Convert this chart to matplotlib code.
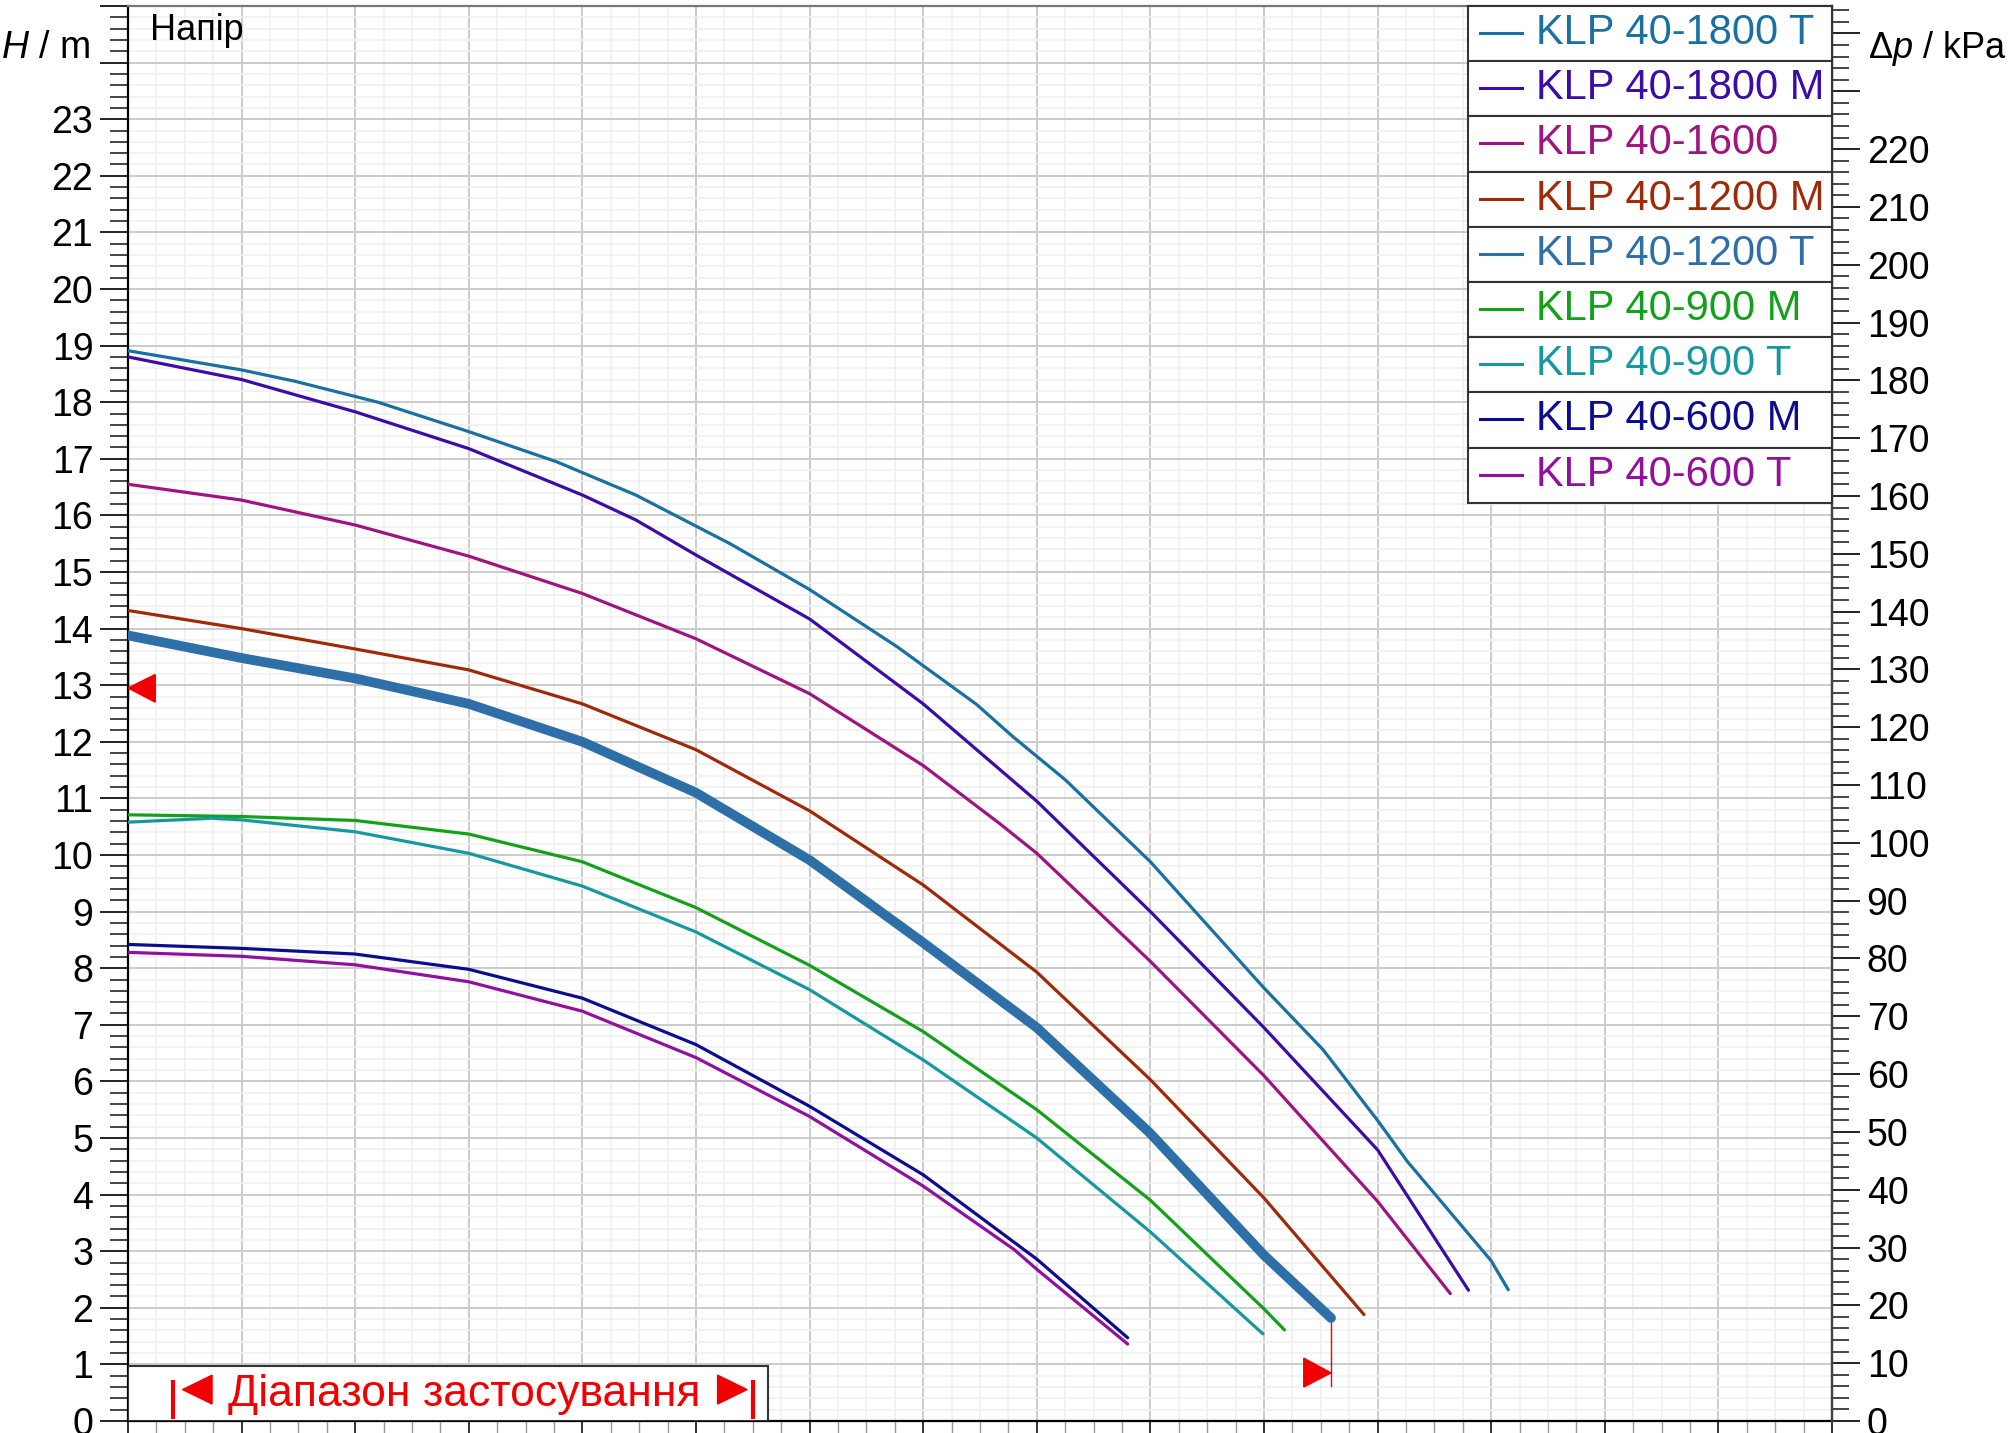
import matplotlib
matplotlib.use("Agg")
import matplotlib.pyplot as plt
from matplotlib.patches import Rectangle, Polygon
from matplotlib.lines import Line2D
from matplotlib.ticker import MultipleLocator

plt.rcParams['font.family'] = ['Liberation Sans', 'DejaVu Sans']
plt.rcParams['mathtext.fontset'] = 'custom'
plt.rcParams['mathtext.rm'] = 'Liberation Sans'
plt.rcParams['mathtext.it'] = 'Liberation Sans:italic'

# ---------------- data (flow units on x, head H in m on y) ----------------
names = ["KLP 40-1800 T", "KLP 40-1800 M", "KLP 40-1600", "KLP 40-1200 M",
         "KLP 40-1200 T", "KLP 40-900 M", "KLP 40-900 T", "KLP 40-600 M",
         "KLP 40-600 T"]
colors = ["#1a70a0", "#3c0ca8", "#a0147f", "#a02a08", "#2f6fa8",
          "#13a01a", "#1598a0", "#0c0c90", "#92109e"]

q_1800T = [0, 1.0, 1.47, 2.2, 3.0, 3.77, 4.47, 5.3, 6.0, 6.77, 7.47, 7.79, 8.25, 9.0, 10.0, 10.52, 11.0, 11.26, 12.0, 12.15]
h_1800T = [18.91, 18.57, 18.37, 18.0, 17.48, 16.95, 16.36, 15.5, 14.69, 13.68, 12.66, 12.09, 11.33, 9.88, 7.65, 6.56, 5.31, 4.59, 2.83, 2.32]

q_1800M = [0, 1, 2, 3, 4, 4.47, 5, 6, 7, 8, 9, 10, 11, 11.8]
h_1800M = [18.8, 18.40, 17.83, 17.18, 16.36, 15.92, 15.3, 14.17, 12.67, 10.95, 9.0, 6.95, 4.79, 2.31]

q_1600 = [0, 1, 2, 3, 4, 5, 6, 7, 7.67, 8, 9, 10, 11, 11.64]
h_1600 = [16.55, 16.27, 15.83, 15.28, 14.62, 13.82, 12.85, 11.58, 10.56, 10.03, 8.12, 6.1, 3.88, 2.25]

q_1200M = [0, 1, 2, 3, 4, 5, 6, 7, 8, 9, 10, 10.88]
h_1200M = [14.32, 14.0, 13.64, 13.27, 12.67, 11.86, 10.78, 9.47, 7.93, 6.03, 3.94, 1.88]

q_1200T = [0, 1, 2, 3, 4, 5, 6, 7, 8, 9, 10, 10.59]
h_1200T = [13.88, 13.48, 13.12, 12.67, 12.0, 11.1, 9.91, 8.45, 6.95, 5.08, 2.93, 1.82]

q_900M = [0, 1, 2, 3, 4, 5, 6, 7, 8, 9, 10, 10.18]
h_900M = [10.71, 10.68, 10.61, 10.37, 9.88, 9.07, 8.05, 6.88, 5.5, 3.9, 1.98, 1.61]

q_900T = [0, 0.74, 1, 2, 3, 4, 5, 6, 7, 8, 9, 9.99]
h_900T = [10.58, 10.65, 10.62, 10.41, 10.03, 9.45, 8.64, 7.62, 6.38, 5.0, 3.34, 1.54]

q_600M = [0, 1, 2, 3, 4, 5, 6, 7, 8, 8.8]
h_600M = [8.42, 8.35, 8.25, 7.98, 7.47, 6.65, 5.56, 4.35, 2.86, 1.47]

q_600T = [0, 1, 2, 3, 4, 5, 6, 7, 7.8, 8, 8.8]
h_600T = [8.28, 8.21, 8.06, 7.76, 7.24, 6.42, 5.38, 4.15, 3.03, 2.68, 1.36]

series_q = [q_1800T, q_1800M, q_1600, q_1200M, q_1200T, q_900M, q_900T, q_600M, q_600T]
series_h = [h_1800T, h_1800M, h_1600, h_1200M, h_1200T, h_900M, h_900T, h_600M, h_600T]
highlight = "KLP 40-1200 T"

# operating range markers
range_left = (0.0, 12.95)
range_right = (10.59, 0.85)

left_tick_labels = [str(i) for i in range(24)]
right_tick_labels = [str(v) for v in range(0, 230, 10)]
kpa_per_m = 9.79

W, Hpx = 2012, 1433
fig = plt.figure(figsize=(W / 100, Hpx / 100), dpi=100)
L, R, B, T = 128, 1832, 1421, 6
ax = fig.add_axes([L / W, 1 - B / Hpx, (R - L) / W, (B - T) / Hpx])
ax.set_xlim(0, 15)
ax.set_ylim(0, 25)

ax.xaxis.set_major_locator(MultipleLocator(1))
ax.xaxis.set_minor_locator(MultipleLocator(0.25))
ax.yaxis.set_major_locator(MultipleLocator(1))
ax.yaxis.set_minor_locator(MultipleLocator(0.2))
ax.grid(which='major', color='#cbcbcb', lw=1.4)
ax.grid(which='minor', color='#efefef', lw=1.1)
ax.set_axisbelow(True)
ax.set_xticklabels([])
ax.set_yticks(range(26))
ax.set_yticklabels(left_tick_labels + ['', ''])
ax.tick_params(axis='y', which='major', length=20, width=1.4, color='#222222',
               labelsize=27, pad=5, direction='out')
ax.tick_params(axis='y', which='minor', length=13, width=1.4, color='#444444', direction='out')
ax.tick_params(axis='x', which='major', length=20, width=1.4, color='#333333', direction='out')
ax.tick_params(axis='x', which='minor', length=12, width=1.0, color='#999999', direction='out')
for s in ['left', 'bottom']:
    ax.spines[s].set_color('black')
    ax.spines[s].set_linewidth(1.6)
ax.spines['top'].set_color('#777777')
ax.spines['top'].set_linewidth(1.6)
ax.spines['right'].set_color('#444444')
ax.spines['right'].set_linewidth(1.6)

ax2 = ax.twinx()
ax2.set_ylim(0, 25 * kpa_per_m)
ax2.set_yticks(range(0, 250, 10))
ax2.set_yticklabels(right_tick_labels + ['', ''])
ax2.yaxis.set_minor_locator(MultipleLocator(2))
ax2.tick_params(axis='y', which='major', length=20, width=1.4, color='#222222',
                labelsize=27, pad=5, direction='out')
ax2.tick_params(axis='y', which='minor', length=12, width=1.4, color='#444444', direction='out')
for s in ['left', 'top', 'bottom']:
    ax2.spines[s].set_visible(False)
ax2.spines['right'].set_color('#444444')
ax2.spines['right'].set_linewidth(1.6)

red = '#f00000'
# thin red line linking curve start to left marker
ax.plot([0, 0], [series_h[4][0], range_left[1] - 0.2], color='#b00000', lw=1.0, zorder=2, clip_on=False)

for nm, c, q, h in zip(names, colors, series_q, series_h):
    if nm == highlight:
        ax.plot(q, h, color=c, lw=7.0, solid_capstyle='round', solid_joinstyle='round', zorder=4)
    else:
        ax.plot(q, h, color=c, lw=2.3, solid_capstyle='round', solid_joinstyle='round', zorder=3)

# range markers
lx, ly = range_left
ax.add_patch(Polygon([(lx, ly), (lx + 0.24, ly + 0.24), (lx + 0.24, ly - 0.25)],
                     closed=True, color=red, zorder=5, clip_on=False))
rx, ry = range_right
ax.plot([rx, rx], [series_h[4][-1], ry - 0.24], color=red, lw=1.0, zorder=3)
ax.add_patch(Polygon([(rx, ry), (rx - 0.24, ry + 0.26), (rx - 0.24, ry - 0.25)],
                     closed=True, color=red, zorder=5))

# range box
ax.add_patch(Rectangle((0, 0), 5.63, 0.97, facecolor='white', edgecolor='#333333',
                       lw=1.5, zorder=6))
ax.plot([0.40, 0.40], [0.04, 0.72], color=red, lw=3.0, zorder=7, solid_capstyle='butt')
ax.plot([5.50, 5.50], [0.04, 0.72], color=red, lw=3.0, zorder=7, solid_capstyle='butt')
ax.add_patch(Polygon([(0.48, 0.555), (0.74, 0.81), (0.74, 0.30)], closed=True, color=red, zorder=7))
ax.add_patch(Polygon([(5.45, 0.555), (5.19, 0.81), (5.19, 0.30)], closed=True, color=red, zorder=7))
ax.text(2.96, 0.27, "Діапазон застосування", color=red, fontsize=32, ha='center',
        va='baseline', zorder=8)

def fx(px):
    return px / W

def fy(py):
    return 1 - py / Hpx

# axis titles
fig.text(fx(90), fy(58), "$H$ / m", fontsize=27, ha='right', va='baseline')
fig.text(fx(1868), fy(58), "Δ$p$ / kPa", fontsize=26, ha='left', va='baseline')
fig.text(fx(150), fy(40), "Напір", fontsize=26, ha='left', va='baseline')

# legend table
row_h = 55.2
lx0, lx1 = 1468, 1832
for i, (nm, c) in enumerate(zip(names, colors)):
    top = T + i * row_h
    fig.add_artist(Rectangle((fx(lx0), fy(top + row_h)), fx(lx1) - fx(lx0), (row_h) / Hpx,
                             transform=fig.transFigure, facecolor='white',
                             edgecolor='#333333', lw=1.5, zorder=10))
    fig.add_artist(Line2D([fx(1480), fx(1522)], [fy(top + 27), fy(top + 27)],
                          transform=fig.transFigure, color=c, lw=2.2, zorder=11))
    fig.text(fx(1536), fy(top + 38), nm, color=c, fontsize=30, ha='left',
             va='baseline', zorder=12)

fig.savefig("out.png", dpi=100)
